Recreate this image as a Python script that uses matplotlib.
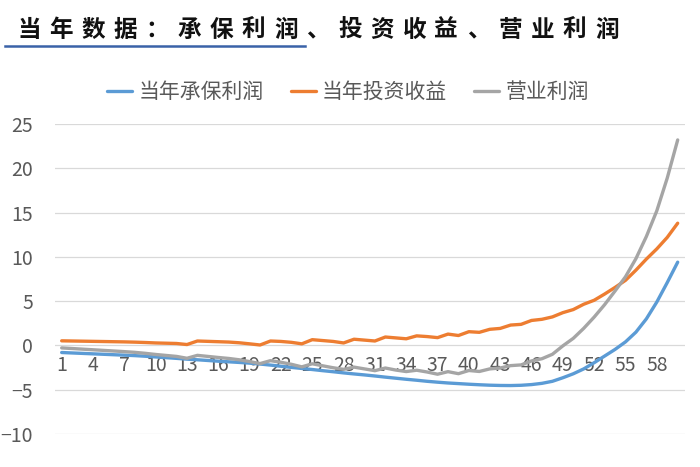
import matplotlib.pyplot as plt
import numpy as np

plt.rcParams['font.family'] = ['Noto Sans CJK SC', 'DejaVu Sans']

years = np.arange(1, 61)

uw_profit = [-0.80, -0.85, -0.90, -0.95, -1.00, -1.05, -1.10, -1.15, -1.22, -1.30,
             -1.38, -1.46, -1.55, -1.62, -1.70, -1.78, -1.85, -1.92, -2.00, -2.10,
             -2.22, -2.35, -2.48, -2.60, -2.72, -2.85, -2.97, -3.10, -3.22, -3.33,
             -3.45, -3.58, -3.70, -3.82, -3.93, -4.05, -4.15, -4.24, -4.31, -4.38,
             -4.44, -4.49, -4.52, -4.53, -4.50, -4.42, -4.28, -4.05, -3.65, -3.20,
             -2.65, -1.95, -1.20, -0.45, 0.40, 1.50, 3.00, 4.90, 7.10, 9.40]

inv_income = [0.52, 0.50, 0.48, 0.46, 0.44, 0.42, 0.40, 0.37, 0.33, 0.28,
              0.25, 0.22, 0.10, 0.50, 0.46, 0.42, 0.38, 0.30, 0.18, 0.05,
              0.50, 0.45, 0.35, 0.18, 0.65, 0.55, 0.45, 0.28, 0.70, 0.60,
              0.50, 0.95, 0.85, 0.75, 1.08, 1.00, 0.88, 1.28, 1.12, 1.55,
              1.48, 1.82, 1.92, 2.30, 2.38, 2.82, 2.95, 3.22, 3.70, 4.05,
              4.65, 5.10, 5.80, 6.55, 7.35, 8.50, 9.75, 10.90, 12.20, 13.80]

op_profit = [-0.28, -0.35, -0.42, -0.49, -0.56, -0.63, -0.70, -0.78, -0.89, -1.02,
             -1.13, -1.24, -1.45, -1.12, -1.24, -1.36, -1.47, -1.62, -1.82, -2.05,
             -1.72, -1.90, -2.13, -2.42, -2.07, -2.30, -2.52, -2.70, -2.45, -2.65,
             -2.85, -2.55, -2.78, -2.95, -2.80, -3.00, -3.25, -2.96, -3.19, -2.83,
             -2.94, -2.65, -2.55, -2.28, -2.20, -1.75, -1.50, -1.00, -0.05, 0.80,
             1.93, 3.20, 4.60, 6.15, 7.75, 9.80, 12.30, 15.20, 18.90, 23.20]

names = ['当年承保利润', '当年投资收益', '营业利润']
colors = ['#5b9bd5', '#ed7d31', '#a5a5a5']

fig = plt.figure(figsize=(7, 4.67), dpi=100)
ax = fig.add_axes([55 / 700, 1 - 434 / 467, 630 / 700, 310 / 467])

for vals, name, c in zip([uw_profit, inv_income, op_profit], names, colors):
    ax.plot(years, vals, color=c, lw=2.4, label=name, solid_capstyle='round')

ax.set_ylim(-10, 25)
ax.set_xlim(0.36, 60.7)
ax.set_yticks(np.arange(-10, 26, 5))
ax.set_xticks(np.arange(1, 61, 3))
ax.grid(axis='y', color='#d9d9d9', lw=0.9)
ax.set_axisbelow(True)
for s in ['top', 'right', 'left']:
    ax.spines[s].set_visible(False)
ax.spines['bottom'].set_position(('data', 0))
ax.spines['bottom'].set_visible(False)
ax.tick_params(axis='y', length=0, pad=16, labelsize=14, labelcolor='#595959')
ax.tick_params(axis='x', length=0, pad=7, labelsize=14, labelcolor='#595959')

leg = fig.legend(loc='center', bbox_to_anchor=(0.497, 1 - 92 / 467), ncol=3,
                 frameon=False, fontsize=15, handlelength=1.2, handletextpad=0.3,
                 columnspacing=1.3)
for t in leg.get_texts():
    t.set_color('#595959')

# title, letter-spaced
title = '当年数据：承保利润、投资收益、营业利润'
for k, ch in enumerate(title):
    fig.text((29 + k * 32.1) / 700, 1 - 30 / 467, ch, ha='center', va='center',
             fontsize=17, fontweight='bold', color='#111111')
fig.add_artist(plt.Line2D([5 / 700, 305 / 700], [1 - 46 / 467, 1 - 46 / 467],
                          color='#3a62a8', lw=1.8))

fig.savefig('out.png', dpi=100)
